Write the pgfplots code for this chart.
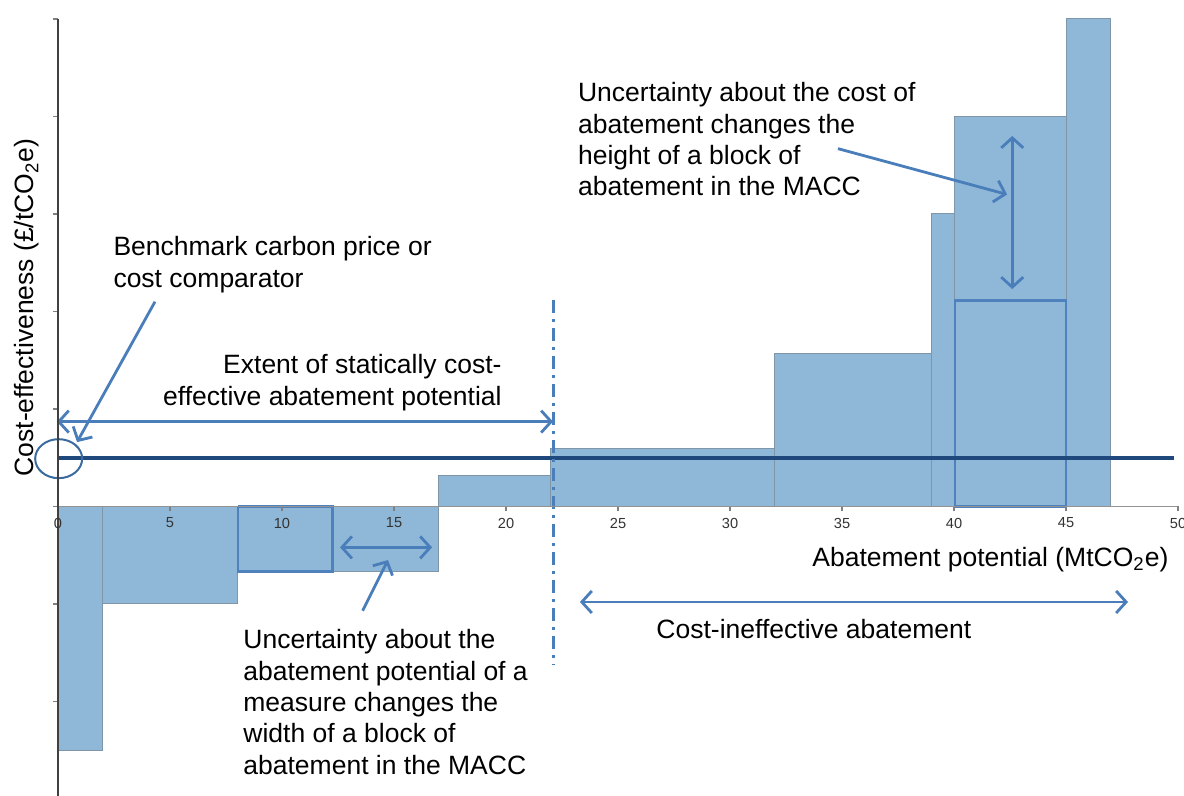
\documentclass[border=0pt]{standalone}
\usepackage{fontspec}
\setmainfont{Liberation Sans}
\usepackage{pgfplots}
\pgfplotsset{compat=1.18}
\usetikzlibrary{arrows.meta}
\definecolor{blockfill}{HTML}{8FB8D8}
\definecolor{blockedge}{HTML}{7F95A8}
\definecolor{arrowblue}{HTML}{4A7EBB}
\definecolor{navy}{HTML}{1F497D}
\definecolor{boxblue}{HTML}{4F81BD}
\definecolor{ellblue}{HTML}{3B6A9E}
\begin{document}
\begin{tikzpicture}[
  txt/.style={font=\fontsize{13.25}{15.65}\selectfont, inner sep=0pt, text=black},
  arr/.style={draw=arrowblue, line width=1.4pt, -{Straight Barb[length=5pt,width=11pt]}},
  darr/.style={draw=arrowblue, line width=1.4pt, {Straight Barb[length=5pt,width=11pt]}-{Straight Barb[length=5pt,width=11pt]}},
]
\begin{axis}[
  scale only axis, width=560pt, height=388.5pt,
  xmin=0, xmax=50, ymin=-2.97, ymax=5,
  axis x line=middle, axis y line=left,
  axis line style={-},
  axis on top,
  x axis line style={gray!85, line width=0.8pt},
  y axis line style={black!75, line width=0.8pt},
  xtick={0,5,...,50}, ytick={-2,-1,...,5}, yticklabels={},
  hide obscured x ticks=false,
  xtick align=outside, ytick align=outside,
  major tick length=2.5pt,
  tick style={gray, line width=0.8pt},
  xticklabel style={font=\fontsize{7.3}{8}\selectfont, text=black!80, inner sep=1.5pt, yshift=-1.5pt},
  /pgf/number format/assume math mode=true,
  clip=false,
]
\coordinate (BL) at (rel axis cs:0,0);
% abatement blocks (x start, height)
\addplot[ybar interval, fill=blockfill, draw=blockedge, line width=0.5pt] coordinates {
  (0,-2.5) (2,-1) (8,-0.67) (17,0.32) (22,0.59) (32,1.57) (39,3) (40,4) (45,5) (47,5)};
% uncertainty outline boxes
\addplot[draw=boxblue, line width=1.3pt, line join=miter] coordinates {
  (8.04,0) (8.04,-0.67) (12.25,-0.67) (12.25,0) (8.04,0)};
\addplot[draw=boxblue, line width=1.3pt, line join=miter] coordinates {
  (40.05,0) (40.05,2.11) (45,2.11) (45,0) (40.05,0)};
% benchmark carbon price
\addplot[draw=navy, line width=2pt] coordinates {(0,0.5) (49.8,0.5)};
% threshold
\addplot[draw=arrowblue, line width=1.5pt, dash pattern=on 6.5pt off 3pt on 1.5pt off 3pt] coordinates {(22.1,2.12) (22.1,-1.62)};

\draw[ellblue, line width=1pt] (axis cs:0.03,0.49) ellipse [x radius=11.75pt, y radius=9.75pt];

\draw[darr] (axis cs:-0.05,0.87) -- (axis cs:22.1,0.87);
\draw[arr] (axis cs:4.33,2.1) -- (axis cs:0.85,0.66);
\draw[darr] (axis cs:42.6,3.8) -- (axis cs:42.6,2.23);
\draw[arr] (axis cs:34.82,3.67) -- (axis cs:42.37,3.2);
\draw[darr] (axis cs:12.59,-0.42) -- (axis cs:16.7,-0.42);
\draw[arr] (axis cs:13.6,-1.07) -- (axis cs:14.73,-0.55);
\draw[darr] (axis cs:23.3,-0.98) -- (axis cs:47.77,-0.98);

\node[txt, align=left, anchor=north west] at (axis cs:23.2,4.35)
  {Uncertainty about the cost of\\abatement changes the\\height of a block of\\abatement in the MACC};
\node[txt, align=left, anchor=north west] at (axis cs:2.46,2.77)
  {Benchmark carbon price or\\cost comparator};
\node[txt, align=right, anchor=north east] at (axis cs:19.82,1.56)
  {Extent of statically cost-\\effective abatement potential};
\node[txt, align=left, anchor=north west] at (axis cs:8.26,-1.26)
  {Uncertainty about the\\abatement potential of a\\measure changes the\\width of a block of\\abatement in the MACC};
\node[txt, anchor=north west] at (axis cs:26.7,-1.15) {Cost-ineffective abatement};
\node[txt, anchor=north west] at (axis cs:33.66,-0.41) {Abatement potential (MtCO\textsubscript{2}e)};
\node[txt, rotate=90, anchor=center] at (axis cs:-1.38,2.04) {Cost-effectiveness (£/tCO\textsubscript{2}e)};
\end{axis}
\pgfresetboundingbox
\path[use as bounding box] (BL) ++(-29pt,0) rectangle ++(592pt,398pt);
\end{tikzpicture}
\end{document}
